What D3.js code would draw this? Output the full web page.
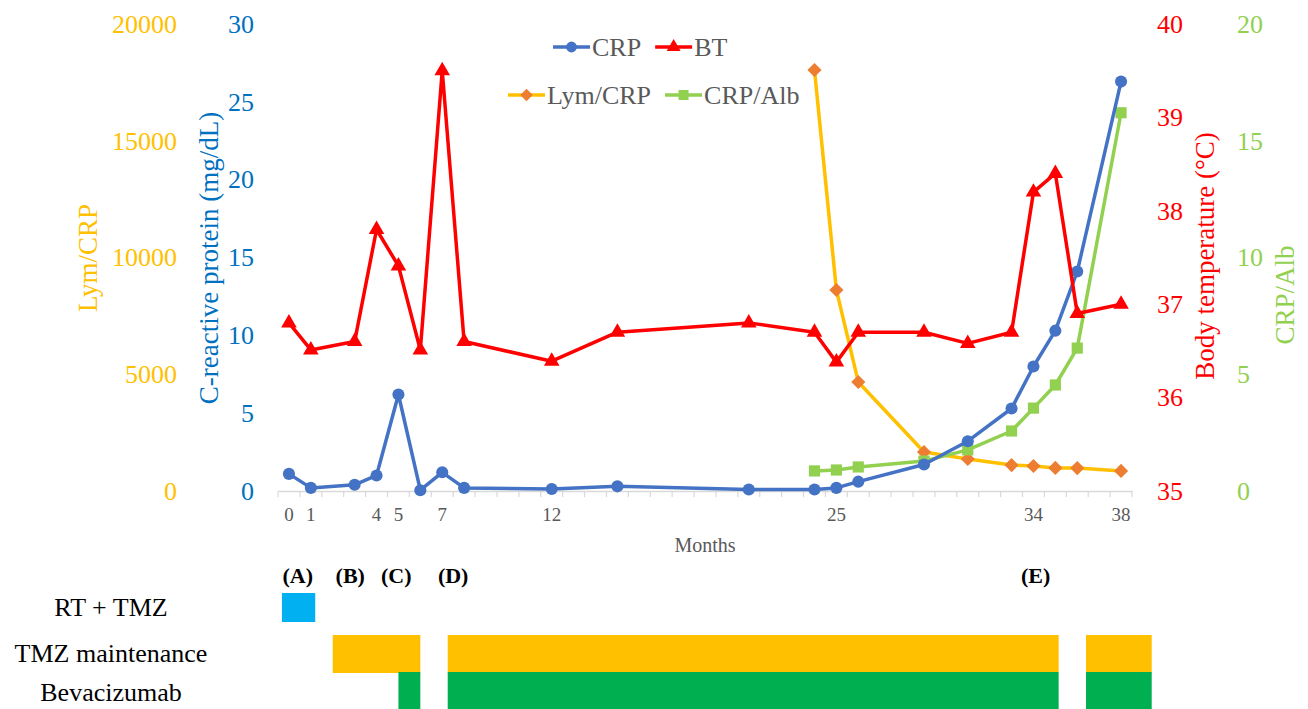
<!DOCTYPE html>
<html>
<head>
<meta charset="utf-8">
<script src="https://cdn.jsdelivr.net/npm/d3@7"></script>
<style>
  body { margin: 0; background: #fff; }
  svg, svg text { font-family: "Liberation Serif", "Times New Roman", serif; }
</style>
</head>
<body>
<svg id="chart" width="1308" height="709"></svg>
<script>
// ---- data ----
const xTickLabels = [0, 1, 4, 5, 7, 12, 25, 34, 38];
const months = [0, 1, 3, 4, 5, 6, 7, 8, 12, 15, 21, 24, 25, 26, 29, 31, 33, 34, 35, 36, 38];
const crp = [1.1, 0.2, 0.4, 1.0, 6.2, 0.05, 1.2, 0.2, 0.13, 0.3, 0.1, 0.1, 0.2, 0.6, 1.7, 3.2, 5.3, 8.0, 10.3, 14.1, 26.3];
const bt = [36.8, 36.51, 36.6, 37.8, 37.41, 36.51, 39.5, 36.6, 36.39, 36.7, 36.8, 36.7, 36.38, 36.7, 36.7, 36.58, 36.7, 38.2, 38.4, 36.9, 37.0];
const labMonths = [24, 25, 26, 29, 31, 33, 34, 35, 36, 38];
const lymCrp = [18030, 8610, 4670, 1670, 1370, 1110, 1070, 990, 980, 860];
const crpAlb = [0.86, 0.9, 1.03, 1.28, 1.76, 2.57, 3.55, 4.54, 6.12, 16.2];

// treatment timeline (months)
const phases = [
  { label: "(A)", m: 0.4 },
  { label: "(B)", m: 2.8 },
  { label: "(C)", m: 4.9 },
  { label: "(D)", m: 7.5 },
  { label: "(E)", m: 34.1 },
];
const treatments = ["RT + TMZ", "TMZ maintenance", "Bevacizumab"];
const treatmentBars = [
  { row: 0, start: -0.32, end: 1.2, color: "#00B0F0" },
  { row: 1, start: 2.0, end: 6.0, color: "#FFC000" },
  { row: 1, start: 7.25, end: 35.15, color: "#FFC000" },
  { row: 1, start: 36.4, end: 39.4, color: "#FFC000" },
  { row: 2, start: 5.0, end: 6.0, color: "#00B050" },
  { row: 2, start: 7.25, end: 35.15, color: "#00B050" },
  { row: 2, start: 36.4, end: 39.4, color: "#00B050" },
];

const colors = {
  crp: "#4472C4",
  bt: "#FF0000",
  lym: "#FFC000",
  lymMarker: "#ED7D31",
  alb: "#92D050",
  axisText: "#595959",
  crpAxis: "#0070C0",
};
const serif = "Liberation Serif";

const svg = d3.select("#chart");

// plot area
const plot = { left: 278, right: 1132, top: 24, bottom: 491 };

// one category per month, like an Excel category axis
const xBand = d3
  .scaleBand()
  .domain(d3.range(39))
  .range([plot.left, plot.right]);
const xPos = (m) => xBand(m) + xBand.bandwidth() / 2;
// continuous version for the timeline bars
const xLin = d3
  .scaleLinear()
  .domain([0, 38])
  .range([xPos(0), xPos(38)]);

const yCrp = d3.scaleLinear().domain([0, 30]).range([plot.bottom, plot.top]);
const yLym = d3.scaleLinear().domain([0, 20000]).range([plot.bottom, plot.top]);
const yBt = d3.scaleLinear().domain([35, 40]).range([plot.bottom, plot.top]);
const yAlb = d3.scaleLinear().domain([0, 20]).range([plot.bottom, plot.top]);

// ---- axes ----
function valueAxis(scale, axisFn, x, color, ticks) {
  const g = svg
    .append("g")
    .attr("transform", `translate(${x},0)`)
    .call(
      axisFn(scale)
        .tickValues(ticks)
        .tickFormat(d3.format("d"))
        .tickSize(0)
        .tickPadding(0)
    );
  g.attr("font-family", null);
  g.select(".domain").remove();
  g.selectAll("text")
    .attr("fill", color)
    .attr("font-size", 26)
    .style("font-family", serif);
  return g;
}

valueAxis(yLym, d3.axisLeft, 177, colors.lym, [0, 5000, 10000, 15000, 20000]);
valueAxis(yCrp, d3.axisLeft, 254, colors.crpAxis, [0, 5, 10, 15, 20, 25, 30]);
valueAxis(yBt, d3.axisRight, 1157, colors.bt, [35, 36, 37, 38, 39, 40]);
valueAxis(yAlb, d3.axisRight, 1237, colors.alb, [0, 5, 10, 15, 20]);

// x axis: ticks between categories, labels only on some months
const xAxisG = svg
  .append("g")
  .attr("transform", `translate(0,${plot.bottom})`)
  .call(
    d3
      .axisBottom(xBand)
      .tickValues(xTickLabels)
      .tickSize(0)
      .tickPadding(17)
  );
xAxisG.attr("font-family", null);
xAxisG.select(".domain").attr("stroke", "#D9D9D9").attr("stroke-width", 1.5);
xAxisG
  .selectAll("text")
  .attr("fill", colors.axisText)
  .attr("font-size", 19)
  .style("font-family", serif);

// tick marks at category boundaries
xAxisG
  .selectAll("line.sep")
  .data(d3.range(40))
  .enter()
  .append("line")
  .attr("class", "sep")
  .attr("x1", (d) => (d < 39 ? xBand(d) : plot.right))
  .attr("x2", (d) => (d < 39 ? xBand(d) : plot.right))
  .attr("y1", 0)
  .attr("y2", 6)
  .attr("stroke", "#D9D9D9")
  .attr("stroke-width", 1.2);

// axis titles
function rotatedTitle(text, x, y, color) {
  svg
    .append("text")
    .attr("transform", `translate(${x},${y}) rotate(-90)`)
    .attr("text-anchor", "middle")
    .attr("dominant-baseline", "central")
    .attr("fill", color)
    .attr("font-size", 27)
    .text(text);
}
rotatedTitle("Lym/CRP", 88, 258, colors.lym);
rotatedTitle("C-reactive protein (mg/dL)", 209, 258, colors.crpAxis);
rotatedTitle("Body temperature (\u00B0C)", 1205, 256, colors.bt);
rotatedTitle("CRP/Alb", 1285, 295, colors.alb);

svg
  .append("text")
  .attr("x", 705)
  .attr("y", 552)
  .attr("text-anchor", "middle")
  .attr("fill", colors.axisText)
  .attr("font-size", 20)
  .text("Months");

// Excel style diamond: a square turned 45 degrees
const diamond = {
  draw(context, size) {
    const r = Math.sqrt(size / 2);
    context.moveTo(0, -r);
    context.lineTo(r, 0);
    context.lineTo(0, r);
    context.lineTo(-r, 0);
    context.closePath();
  },
};

// ---- series ----
const series = [
  { name: "CRP", x: months, y: crp, scale: yCrp, line: colors.crp, marker: colors.crp, symbol: d3.symbolCircle, size: 115 },
  { name: "BT", x: months, y: bt, scale: yBt, line: colors.bt, marker: colors.bt, symbol: d3.symbolTriangle, size: 105 },
  { name: "Lym/CRP", x: labMonths, y: lymCrp, scale: yLym, line: colors.lym, marker: colors.lymMarker, symbol: diamond, size: 100 },
  { name: "CRP/Alb", x: labMonths, y: crpAlb, scale: yAlb, line: colors.alb, marker: colors.alb, symbol: d3.symbolSquare, size: 125 },
];

const plotG = svg.append("g").attr("class", "series");

// draw in Excel order: later series on top
["Lym/CRP", "CRP/Alb", "CRP", "BT"]
  .map((n) => series.find((s) => s.name === n))
  .forEach((s) => {
    const pts = s.x.map((m, i) => [xPos(m), s.scale(s.y[i])]);
    const g = plotG.append("g");
    g.append("path")
      .attr("d", d3.line()(pts))
      .attr("fill", "none")
      .attr("stroke", s.line)
      .attr("stroke-width", 3.5)
      .attr("stroke-linejoin", "round");
    g.selectAll("path.mk")
      .data(pts)
      .enter()
      .append("path")
      .attr("class", "mk")
      .attr("transform", (d) => `translate(${d[0]},${d[1]})`)
      .attr("d", d3.symbol(s.symbol, s.size))
      .attr("fill", s.marker);
  });

// ---- legend ----
const legendRows = [
  { y: 47, x: 553, items: ["CRP", "BT"] },
  { y: 95, x: 508, items: ["Lym/CRP", "CRP/Alb"] },
];
legendRows.forEach((row) => {
  let cx = row.x;
  row.items.forEach((name) => {
    const s = series.find((d) => d.name === name);
    const g = svg.append("g").attr("transform", `translate(${cx},${row.y})`);
    g.append("line")
      .attr("x1", 0)
      .attr("x2", 37)
      .attr("stroke", s.line)
      .attr("stroke-width", 3.5);
    g.append("path")
      .attr("transform", "translate(18.5,0)")
      .attr("d", d3.symbol(s.symbol, s.size * 0.8))
      .attr("fill", s.marker);
    const t = g
      .append("text")
      .attr("x", 39)
      .attr("dominant-baseline", "central")
      .attr("fill", colors.axisText)
      .attr("font-size", 26)
      .text(name);
    cx += 39 + t.node().getComputedTextLength() + 14;
  });
});

// ---- treatment timeline ----
svg
  .selectAll("text.phase")
  .data(phases)
  .enter()
  .append("text")
  .attr("class", "phase")
  .attr("x", (d) => xLin(d.m))
  .attr("y", 583)
  .attr("text-anchor", "middle")
  .attr("font-weight", "bold")
  .attr("font-size", 22)
  .text((d) => d.label);

const rowY = [593, 635, 672];
const rowH = [29, 38, 37];
const rowLabelY = [607, 653, 692];

svg
  .selectAll("text.treat")
  .data(treatments)
  .enter()
  .append("text")
  .attr("class", "treat")
  .attr("x", 111)
  .attr("y", (d, i) => rowLabelY[i])
  .attr("text-anchor", "middle")
  .attr("dominant-baseline", "central")
  .attr("font-size", 26)
  .text((d) => d);

svg
  .selectAll("rect.bar")
  .data(treatmentBars)
  .enter()
  .append("rect")
  .attr("class", "bar")
  .attr("x", (d) => xLin(d.start))
  .attr("width", (d) => xLin(d.end) - xLin(d.start))
  .attr("y", (d) => rowY[d.row])
  .attr("height", (d) => rowH[d.row])
  .attr("fill", (d) => d.color);
</script>
</body>
</html>
